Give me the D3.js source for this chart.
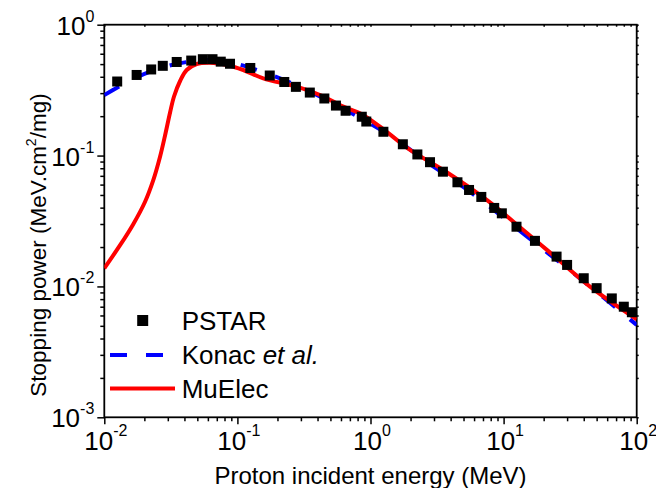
<!DOCTYPE html>
<html>
<head>
<meta charset="utf-8">
<script src="https://cdn.jsdelivr.net/npm/d3@7"></script>
<style>
  body { margin: 0; background: #fff; }
  svg { display: block; font-family: Arial, "Liberation Sans", sans-serif; }
</style>
</head>
<body>
<div id="chart"></div>
<script>
// PSTAR reference points (MeV, MeV.cm2/mg)
const pstarEnergy = [0.0125, 0.0175, 0.0225, 0.0275, 0.035, 0.045, 0.055, 0.065, 0.075, 0.088,
  0.125, 0.175, 0.225, 0.275, 0.35, 0.45, 0.55, 0.65, 0.86, 0.93,
  1.25, 1.75, 2.25, 2.8, 3.5, 4.5, 5.5, 6.8, 8.5, 9.7,
  12.5, 17.2, 25, 30, 40, 50, 65, 80, 92];
const pstarStopping = [0.368, 0.413, 0.455, 0.485, 0.519, 0.532, 0.545, 0.545, 0.522, 0.503,
  0.467, 0.409, 0.365, 0.335, 0.303, 0.273, 0.241, 0.22, 0.198, 0.182,
  0.152, 0.122, 0.102, 0.089, 0.0753, 0.0625, 0.0546, 0.0483, 0.0398, 0.0362,
  0.0286, 0.0223, 0.0169, 0.0146, 0.01155, 0.0097, 0.0081, 0.0070, 0.00635];

// Konac et al.
const konacEnergy = [0.01, 0.0131, 0.018, 0.0262, 0.0392, 0.0588, 0.0831, 0.131, 0.240, 0.44,
  0.806, 1.53, 2.75, 5.0, 9.4, 17.2, 31.6, 59.3, 100];
const konacStopping = [0.290, 0.340, 0.401, 0.4645, 0.513, 0.537, 0.522, 0.461, 0.367, 0.2754,
  0.198, 0.134, 0.087, 0.0575, 0.0352, 0.0215, 0.01325, 0.00788, 0.00508];

// MuElec
const muelecEnergy = [0.01, 0.0131, 0.0165, 0.0202, 0.0233, 0.0262, 0.0286, 0.0312, 0.0334, 0.0371,
  0.0416, 0.0494, 0.0622, 0.0831, 0.1107, 0.1565, 0.279, 0.4175, 0.625, 0.834,
  1.179, 1.981, 3.524, 7.464, 14.06, 25.06, 44.6, 100];
const muelecStopping = [0.01377, 0.02056, 0.02991, 0.0442, 0.06463, 0.09757, 0.1424, 0.2135, 0.2828, 0.3714,
  0.4507, 0.501, 0.5127, 0.4922, 0.4507, 0.3895, 0.336, 0.2904, 0.2363, 0.2104,
  0.1663, 0.1104, 0.0776, 0.0458, 0.0270, 0.01642, 0.00997, 0.00561];

// Ticks
const xMajorTicks = [1e-2, 1e-1, 1e0, 1e1, 1e2];
const yMajorTicks = [1e-3, 1e-2, 1e-1, 1e0];
const xTickExponents = ['-2', '-1', '0', '1', '2'];
const yTickExponents = ['-3', '-2', '-1', '0'];

const legendLabels = ['PSTAR', 'Konac', 'MuElec'];

const width = 656, height = 488;
const margin = { top: 24.7, right: 19.3, bottom: 70.7, left: 104.3 };
const plotW = width - margin.left - margin.right;
const plotH = height - margin.top - margin.bottom;

const svg = d3.select('#chart').append('svg')
  .attr('width', width)
  .attr('height', height);

const x = d3.scaleLog().domain([1e-2, 1e2]).range([0, plotW]);
const y = d3.scaleLog().domain([1e-3, 1e0]).range([plotH, 0]);

function minorTicks(lo, hi) {
  const out = [];
  for (let e = lo; e < hi; e++) {
    for (let m = 2; m <= 9; m++) out.push(m * Math.pow(10, e));
  }
  return out;
}
const xMinor = minorTicks(-2, 2);
const yMinor = minorTicks(-3, 0);

const g = svg.append('g').attr('transform', `translate(${margin.left},${margin.top})`);

// Clip for data
svg.append('defs').append('clipPath').attr('id', 'clip')
  .append('rect').attr('x', 0).attr('y', 0).attr('width', plotW).attr('height', plotH);

// Axes (outer ticks on bottom/left, small mirrored ticks top/right)
function styleAxis(sel) {
  sel.select('.domain').remove();
  sel.selectAll('line').attr('stroke', '#000').attr('stroke-width', 1.5);
  sel.selectAll('text').remove();
}
g.append('g').attr('transform', `translate(0,${plotH})`)
  .call(d3.axisBottom(x).tickValues(xMajorTicks).tickSize(7)).call(styleAxis);
g.append('g').attr('transform', `translate(0,${plotH})`)
  .call(d3.axisBottom(x).tickValues(xMinor).tickSize(4)).call(styleAxis);
g.append('g')
  .call(d3.axisLeft(y).tickValues(yMajorTicks).tickSize(7)).call(styleAxis);
g.append('g')
  .call(d3.axisLeft(y).tickValues(yMinor).tickSize(4)).call(styleAxis);
g.append('g')
  .call(d3.axisBottom(x).tickValues(xMajorTicks.concat(xMinor)).tickSize(2)).call(styleAxis);
g.append('g').attr('transform', `translate(${plotW},0)`)
  .call(d3.axisRight(y).tickValues(yMajorTicks.concat(yMinor)).tickSize(2)).call(styleAxis);

// Frame
g.append('rect')
  .attr('width', plotW).attr('height', plotH)
  .attr('fill', 'none').attr('stroke', '#000').attr('stroke-width', 1.8);

// Tick labels with superscripts
const xLab = g.append('g').attr('font-size', 26).attr('fill', '#000');
xMajorTicks.forEach((v, i) => {
  const t = xLab.append('text')
    .attr('x', x(v) + 1.5).attr('y', plotH + 33)
    .attr('text-anchor', 'middle');
  t.append('tspan').text('10');
  t.append('tspan').attr('font-size', 16).attr('dy', -14).text(xTickExponents[i]);
});
const yLab = g.append('g').attr('font-size', 26).attr('fill', '#000');
yMajorTicks.forEach((v, i) => {
  const t = yLab.append('text')
    .attr('x', -10).attr('y', y(v) + 10)
    .attr('text-anchor', 'end');
  t.append('tspan').text('10');
  t.append('tspan').attr('font-size', 16).attr('dy', -13).text(yTickExponents[i]);
});

// Axis titles
svg.append('text')
  .attr('x', margin.left + plotW / 2).attr('y', 484)
  .attr('text-anchor', 'middle').attr('font-size', 24)
  .text('Proton incident energy (MeV)');

const yTitle = svg.append('text')
  .attr('transform', `translate(46,${margin.top + plotH / 2 + 24}) rotate(-90)`)
  .attr('text-anchor', 'middle').attr('font-size', 22.5);
yTitle.append('tspan').text('Stopping power (MeV.cm');
yTitle.append('tspan').attr('font-size', 14).attr('dy', -10).text('2');
yTitle.append('tspan').attr('dy', 10).text('/mg)');

// Data
const plot = g.append('g').attr('clip-path', 'url(#clip)');

const pstar = pstarEnergy.map((e, i) => ({ e, s: pstarStopping[i] }));
const konac = konacEnergy.map((e, i) => ({ e, s: konacStopping[i] }));
const muelec = muelecEnergy.map((e, i) => ({ e, s: muelecStopping[i] }));

const sq = 10;
g.append('g').selectAll('rect')
  .data(pstar)
  .enter().append('rect')
    .attr('x', d => x(d.e) - sq / 2)
    .attr('y', d => y(d.s) - sq / 2)
    .attr('width', sq).attr('height', sq)
    .attr('fill', '#000');

const line = d3.line()
  .x(d => x(d.e))
  .y(d => y(d.s))
  .curve(d3.curveCatmullRom.alpha(0.5));

plot.append('path')
  .datum(konac)
  .attr('d', line)
  .attr('fill', 'none')
  .attr('stroke', '#0000ff')
  .attr('stroke-width', 4)
  .attr('stroke-dasharray', '17,19');

plot.append('path')
  .datum(muelec)
  .attr('d', line)
  .attr('fill', 'none')
  .attr('stroke', '#ff0000')
  .attr('stroke-width', 4);

// Legend
const legend = svg.append('g').attr('font-size', 26);
const rowY = [320.5, 355, 388.5];
legend.append('rect')
  .attr('x', 142.7 - 5.5).attr('y', rowY[0] - 5.5)
  .attr('width', 11).attr('height', 11).attr('fill', '#000');
legend.append('line')
  .attr('x1', 110).attr('x2', 164).attr('y1', rowY[1]).attr('y2', rowY[1])
  .attr('stroke', '#0000ff').attr('stroke-width', 4)
  .attr('stroke-dasharray', '17,19');
legend.append('line')
  .attr('x1', 110).attr('x2', 175).attr('y1', rowY[2]).attr('y2', rowY[2])
  .attr('stroke', '#ff0000').attr('stroke-width', 4);

legend.append('text').attr('x', 181.7).attr('y', rowY[0] + 9).text(legendLabels[0]);
const kt = legend.append('text').attr('x', 181.7).attr('y', rowY[1] + 9);
kt.append('tspan').text(legendLabels[1] + ' ');
kt.append('tspan').attr('font-style', 'italic').text('et al.');
legend.append('text').attr('x', 181.7).attr('y', rowY[2] + 9).text(legendLabels[2]);
</script>
</body>
</html>
